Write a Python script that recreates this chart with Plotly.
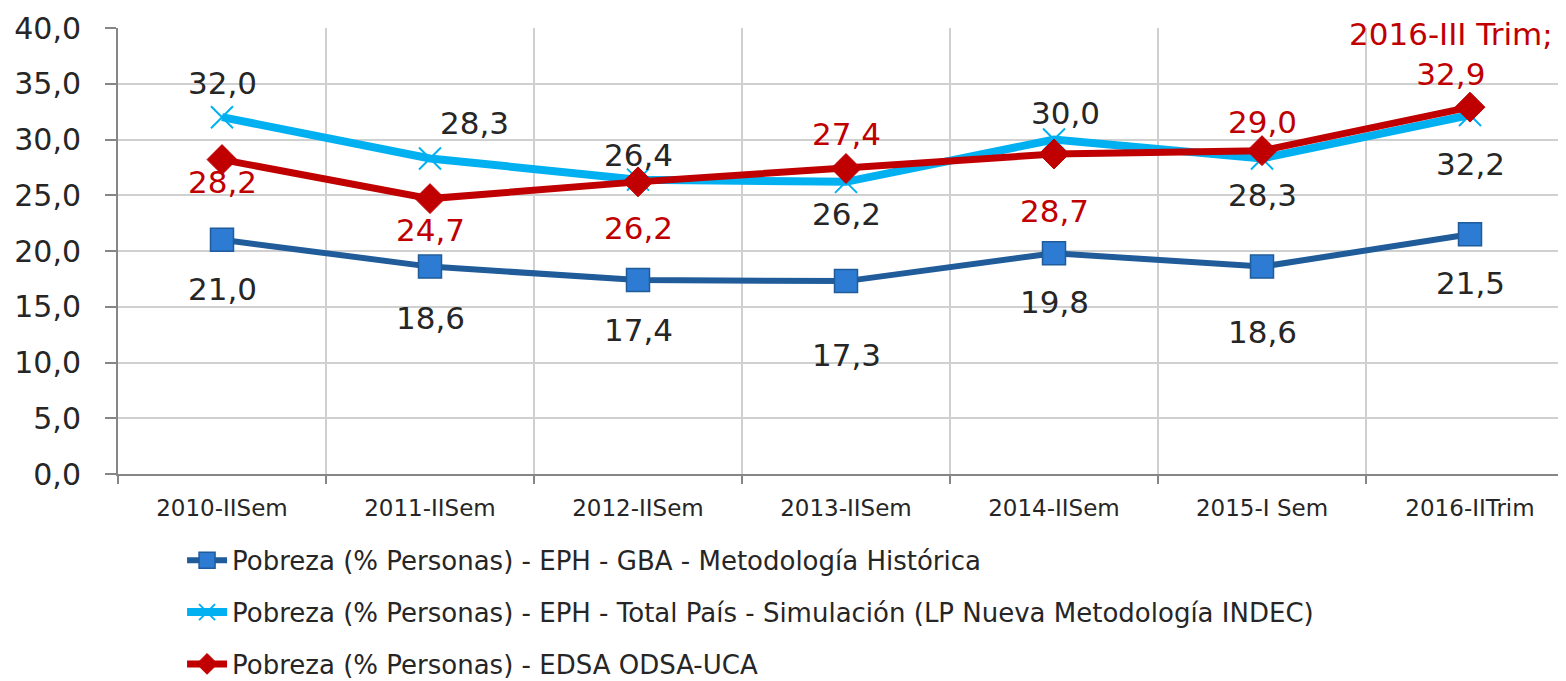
import plotly.graph_objects as go

categories = ["2010-IISem", "2011-IISem", "2012-IISem", "2013-IISem", "2014-IISem", "2015-I Sem", "2016-IITrim"]
gba = [21.0, 18.6, 17.4, 17.3, 19.8, 18.6, 21.5]
total_pais = [32.0, 28.3, 26.4, 26.2, 30.0, 28.3, 32.2]
edsa = [28.2, 24.7, 26.2, 27.4, 28.7, 29.0, 32.9]
names = [
    "Pobreza (% Personas) - EPH - GBA - Metodología Histórica",
    "Pobreza (% Personas) - EPH - Total País - Simulación (LP Nueva Metodología INDEC)",
    "Pobreza (% Personas) - EDSA ODSA-UCA",
]
edsa_last_prefix = "2016-III Trim;"

# label offsets in pixels (xshift, yshift)
gba_off = [(0, -49), (0, -51), (0, -50), (0, -74), (0, -49), (0, -65), (0, -49)]
tp_off = [(0, 34), (44, 35), (0, 25), (0, -32), (11, 27), (0, -37), (0, -49)]
ed_off = [(0, -22), (0, -31), (0, -46), (0, 34), (0, -57), (0, 29), (-19, 53)]

FONT = "DejaVu Sans"
DARK = "#262626"
RED = "#C00000"

def fmt(v):
    return f"{v:.1f}".replace(".", ",")

fig = go.Figure()
fig.add_trace(go.Scatter(
    x=categories, y=gba, name=names[0], mode="lines+markers", legendgroup="a",
    line=dict(color="#1F5C99", width=6),
    marker=dict(symbol="square", size=23, color="#2E7BD4", line=dict(color="#1F5C99", width=1.5)),
))
fig.add_trace(go.Scatter(
    x=categories, y=total_pais, name=names[1], mode="lines+markers", legendgroup="b",
    line=dict(color="#00B0F0", width=8),
    marker=dict(symbol="x-thin", size=22, color="#00B0F0", line=dict(color="#00B0F0", width=2)),
))
fig.add_trace(go.Scatter(
    x=categories, y=edsa, name=names[2], mode="lines+markers", legendgroup="c",
    line=dict(color=RED, width=7),
    marker=dict(symbol="diamond", size=23, color=RED, line=dict(color=RED, width=1)),
))

annotations = []
for series, offs, col in ((gba, gba_off, DARK), (total_pais, tp_off, DARK), (edsa, ed_off, RED)):
    for i, (c, v) in enumerate(zip(categories, series)):
        txt = fmt(v)
        if series is edsa and i == len(categories) - 1:
            txt = edsa_last_prefix + "<br>" + txt
        annotations.append(dict(
            x=c, y=v, xref="x", yref="y", text=txt, showarrow=False,
            xshift=offs[i][0], yshift=offs[i][1],
            font=dict(family=FONT, size=31, color=col),
        ))

fig.update_layout(
    width=1566, height=681,
    margin=dict(l=110, r=0, t=20, b=215, autoexpand=False),
    paper_bgcolor="white", plot_bgcolor="white",
    font=dict(family=FONT, color=DARK),
    annotations=annotations,
    showlegend=True,
    legend=dict(
        orientation="v", x=0.044, xanchor="left", y=-0.141, yanchor="top",
        font=dict(family=FONT, size=26, color=DARK),
        tracegroupgap=15, itemwidth=40, bgcolor="rgba(0,0,0,0)",
    ),
    xaxis=dict(
        type="category", range=[-0.5, 6.5], tickson="boundaries", automargin=False,
        showgrid=True, gridcolor="#D0D0D0", gridwidth=2,
        showline=True, linecolor="#868686", linewidth=2,
        ticks="outside", ticklen=8, tickcolor="#868686", tickwidth=2,
        tickfont=dict(family=FONT, size=23, color=DARK),
        ticklabelstandoff=12,
    ),
    yaxis=dict(
        range=[0, 40], dtick=5, tickformat=".1f", automargin=False,
        showgrid=True, gridcolor="#D0D0D0", gridwidth=2,
        showline=True, linecolor="#868686", linewidth=2,
        ticks="outside", ticklen=11, tickcolor="#868686", tickwidth=2,
        tickfont=dict(family=FONT, size=30, color=DARK),
        zeroline=False, ticklabelstandoff=18,
    ),
    separators=",.",
)

fig.write_html("out.html")
